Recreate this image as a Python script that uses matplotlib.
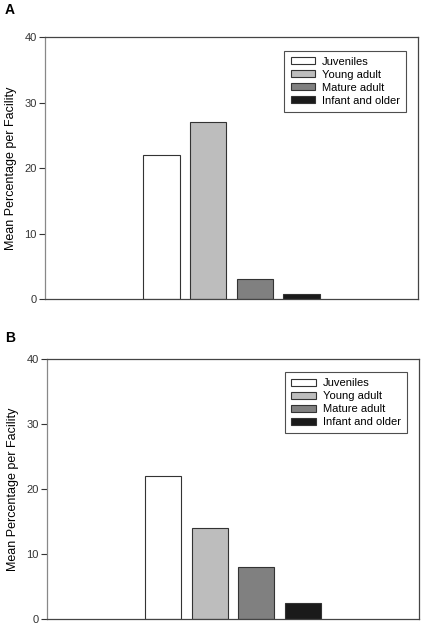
import numpy as np
import matplotlib.pyplot as plt

plt.rcParams['font.family'] = ['Liberation Sans', 'DejaVu Sans']

groups = ['Juveniles', 'Young adult', 'Mature adult', 'Infant and older']
colors = ['#ffffff', '#bdbdbd', '#808080', '#1a1a1a']
vals_a = [22.0, 27.0, 3.0, 0.8]
vals_b = [22.0, 14.0, 8.0, 2.4]
yticks = [0, 10, 20, 30, 40]

fig = plt.figure(figsize=(4.24, 6.26), dpi=100)
ax_a = fig.add_axes([0.106, 0.5224, 0.880, 0.4177])
ax_b = fig.add_axes([0.111, 0.0112, 0.877, 0.4150])

x = np.arange(len(groups))
for ax, vals, lab, ly in [(ax_a, vals_a, 'A', 0.996), (ax_b, vals_b, 'B', 0.472)]:
    for i in range(len(groups)):
        ax.bar(x[i], vals[i], width=0.78, color=colors[i], edgecolor='#333333',
               linewidth=0.8, label=groups[i])
    ax.set_xlim(-2.5, 5.5)
    ax.set_ylim(0, 40)
    ax.set_yticks(yticks)
    ax.set_xticks([])
    ax.tick_params(axis='y', direction='out', length=4, width=0.8,
                   labelsize=8, colors='#333333', pad=2)
    for s in ax.spines.values():
        s.set_color('#444444')
        s.set_linewidth(0.9)
    ax.spines['left'].set_color('#888888')
    ax.set_ylabel('Mean Percentage per Facility', fontsize=9, labelpad=5)
    leg = ax.legend(loc='upper right', bbox_to_anchor=(0.967, 0.95), fontsize=8,
                    frameon=True, fancybox=False, handlelength=2.2, handleheight=0.6,
                    handletextpad=0.6, labelspacing=0.27, borderpad=0.55,
                    borderaxespad=0)
    leg.get_frame().set_edgecolor('#222222')
    leg.get_frame().set_linewidth(0.8)
    fig.text(0.012, ly, lab, fontsize=10, fontweight='bold', va='top')

fig.savefig('out.png', dpi=100)
